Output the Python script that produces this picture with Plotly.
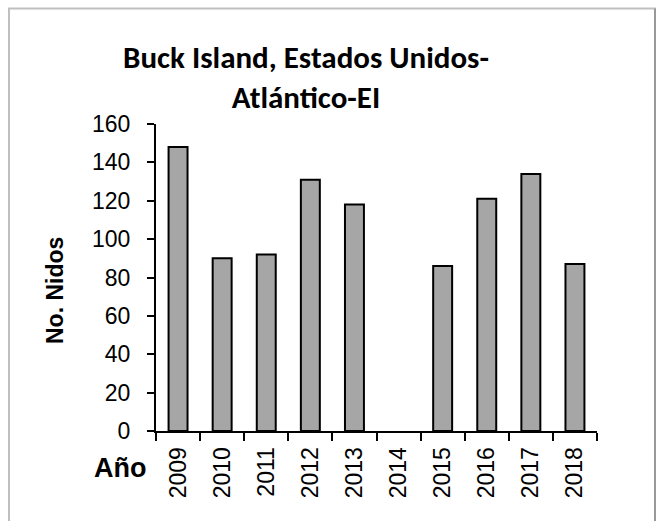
import plotly.graph_objects as go

years = ["2009", "2010", "2011", "2012", "2013", "2014", "2015", "2016", "2017", "2018"]
nests = [148, 90, 92, 131, 118, 0, 86, 121, 134, 87]
y_ticks = [0, 20, 40, 60, 80, 100, 120, 140, 160]

ARIAL = "'Liberation Sans', Arial, sans-serif"
CALIBRI = "Carlito, Lato, sans-serif"

fig = go.Figure(go.Bar(
    x=years, y=nests,
    marker=dict(color="#A6A6A6",
                line=dict(color="black", width=[2 if v > 0 else 0 for v in nests])),
    width=0.43,
))

fig.update_layout(
    width=659, height=521,
    margin=dict(l=156, r=62, t=124, b=90, autoexpand=False),
    paper_bgcolor="white", plot_bgcolor="white",
    showlegend=False,
    font=dict(family=ARIAL, color="black", size=23),
    title=dict(
        text="<b>Buck Island, Estados Unidos-<br>Atlántico-EI</b>",
        x=306 / 659, xanchor="center", xref="container",
        y=1 - 68 / 521, yanchor="top", yref="container",
        font=dict(size=31, family=CALIBRI),
    ),
)

fig.update_xaxes(
    type="category", tickangle=-90, showline=True, linecolor="black", linewidth=2,
    ticks="outside", tickson="boundaries", ticklen=8, tickwidth=2, tickcolor="black",
    showgrid=False, tickfont=dict(size=23), automargin=False, ticklabelstandoff=5,
)
fig.update_yaxes(
    range=[0, 160], tickvals=y_ticks, showline=True, linecolor="black", linewidth=2,
    ticks="outside", ticklen=7, tickwidth=2, tickcolor="black", showgrid=False,
    zeroline=False, tickfont=dict(size=23), automargin=False, ticklabelstandoff=12,
)

fig.add_annotation(
    text="<b>No. Nidos</b>", xref="paper", yref="paper", x=(55 - 156) / 441,
    y=(431 - 291) / 307, textangle=-90, xanchor="center", yanchor="middle",
    showarrow=False, font=dict(size=23, family=ARIAL),
)
fig.add_annotation(
    text="<b>Año</b>", xref="paper", yref="paper", x=(120 - 156) / 441,
    y=(431 - 468) / 307, xanchor="center", yanchor="middle",
    showarrow=False, font=dict(size=27, family=ARIAL),
)

fig.add_shape(
    type="rect", xref="paper", yref="paper",
    x0=(9 - 156) / 441, x1=(655 - 156) / 441,
    y0=(431 - 540) / 307, y1=(431 - 8.5) / 307,
    line=dict(color="#BFBFBF", width=2), layer="below",
)
fig.add_shape(
    type="line", xref="paper", yref="paper",
    x0=(655 - 156) / 441, x1=(655 - 156) / 441,
    y0=(431 - 540) / 307, y1=(431 - 8.5) / 307,
    line=dict(color="#8C8C8C", width=1.5), layer="below",
)

fig.write_html("out.html", config={"displayModeBar": False},
               post_script="document.body.style.margin='0';")
